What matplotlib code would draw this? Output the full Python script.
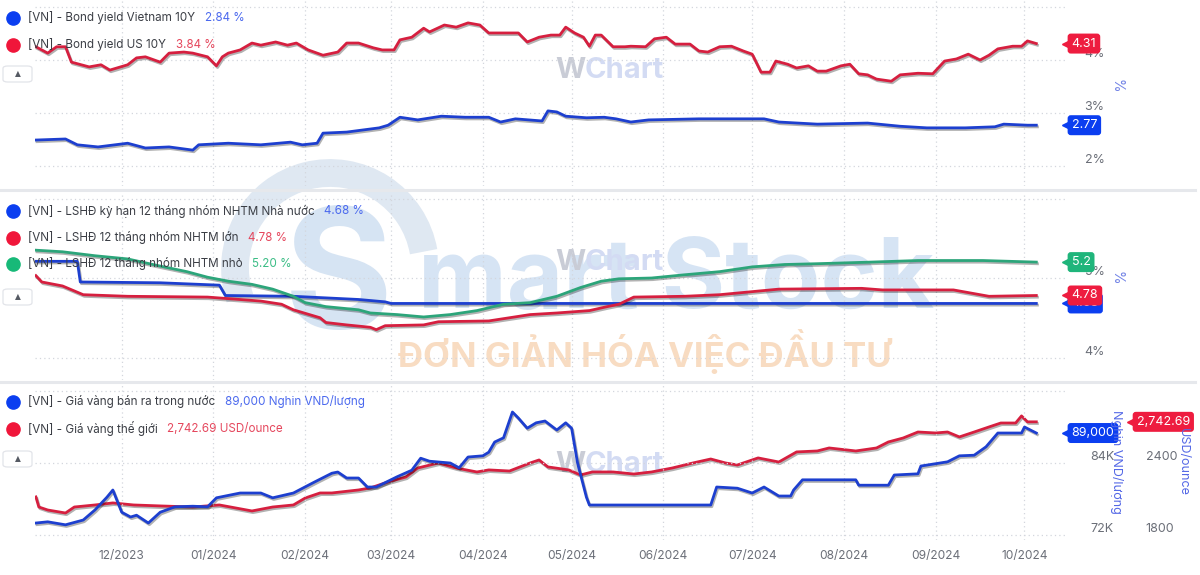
import matplotlib
matplotlib.use('Agg')
import matplotlib.pyplot as plt
import matplotlib.dates as mdates
import matplotlib.patheffects as pe
import matplotlib.transforms as mtransforms
from matplotlib.lines import Line2D
from matplotlib.patches import FancyBboxPatch, Arc
import pandas as pd

plt.rcParams['font.family'] = ['Inter', 'DejaVu Sans']

# ---- panel 1: bond yields (%)
us10y_dates = ['2023-11-02', '2023-11-06', '2023-11-09', '2023-11-12', '2023-11-14', '2023-11-20',
               '2023-11-24', '2023-11-27', '2023-12-03', '2023-12-06', '2023-12-09', '2023-12-12',
               '2023-12-14', '2023-12-17', '2023-12-22', '2023-12-25', '2023-12-30', '2024-01-02',
               '2024-01-04', '2024-01-06', '2024-01-10', '2024-01-14', '2024-01-17', '2024-01-22',
               '2024-01-26', '2024-01-29', '2024-02-02', '2024-02-07', '2024-02-12', '2024-02-15',
               '2024-02-19', '2024-02-24', '2024-02-27', '2024-03-02', '2024-03-04', '2024-03-08',
               '2024-03-12', '2024-03-14', '2024-03-19', '2024-03-23', '2024-03-27', '2024-03-31',
               '2024-04-03', '2024-04-08', '2024-04-13', '2024-04-16', '2024-04-20', '2024-04-24',
               '2024-04-27', '2024-04-29', '2024-05-02', '2024-05-05', '2024-05-07', '2024-05-09',
               '2024-05-11', '2024-05-15', '2024-05-19', '2024-05-21', '2024-05-26', '2024-05-29',
               '2024-06-02', '2024-06-05', '2024-06-10', '2024-06-13', '2024-06-16', '2024-06-20',
               '2024-06-24', '2024-06-28', '2024-07-01', '2024-07-04', '2024-07-07', '2024-07-09',
               '2024-07-13', '2024-07-16', '2024-07-20', '2024-07-23', '2024-07-26', '2024-07-31',
               '2024-08-03', '2024-08-06', '2024-08-09', '2024-08-12', '2024-08-17', '2024-08-20',
               '2024-08-26', '2024-08-31', '2024-09-04', '2024-09-08', '2024-09-12', '2024-09-16',
               '2024-09-19', '2024-09-22', '2024-09-27', '2024-09-30', '2024-10-02', '2024-10-05']
us10y = [4.25, 4.13, 4.25, 4.25, 3.96, 3.87, 3.91, 3.81, 3.91, 4.04, 4.06, 4.00,
         3.96, 4.13, 4.15, 4.13, 4.06, 3.89, 4.06, 4.13, 4.19, 4.32, 4.28, 4.34,
         4.28, 4.32, 4.19, 4.09, 4.15, 4.32, 4.32, 4.23, 4.19, 4.19, 4.38, 4.43,
         4.60, 4.53, 4.66, 4.62, 4.70, 4.66, 4.51, 4.51, 4.51, 4.34, 4.43, 4.47,
         4.47, 4.62, 4.51, 4.43, 4.26, 4.47, 4.47, 4.25, 4.25, 4.26, 4.25, 4.40,
         4.43, 4.30, 4.30, 4.17, 4.15, 4.25, 4.26, 4.17, 4.11, 3.77, 3.77, 3.98,
         3.92, 3.85, 3.89, 3.79, 3.79, 3.89, 3.92, 3.74, 3.72, 3.64, 3.60, 3.72,
         3.75, 3.74, 3.98, 4.02, 4.11, 4.00, 4.09, 4.21, 4.26, 4.26, 4.36, 4.31]

vn10y_dates = ['2023-11-02', '2023-11-12', '2023-11-16', '2023-11-23', '2023-12-03', '2023-12-09',
               '2023-12-17', '2023-12-25', '2023-12-27', '2024-01-06', '2024-01-17', '2024-01-27',
               '2024-01-31', '2024-02-05', '2024-02-07', '2024-02-15', '2024-02-26', '2024-02-29',
               '2024-03-04', '2024-03-10', '2024-03-18', '2024-03-26', '2024-04-03', '2024-04-07',
               '2024-04-12', '2024-04-21', '2024-04-23', '2024-04-26', '2024-04-29', '2024-05-06',
               '2024-05-12', '2024-05-16', '2024-05-21', '2024-05-27', '2024-06-13', '2024-06-24',
               '2024-07-05', '2024-07-10', '2024-07-23', '2024-08-09', '2024-08-20', '2024-08-29',
               '2024-09-11', '2024-09-21', '2024-09-24', '2024-10-02', '2024-10-05']
vn10y = [2.49, 2.51, 2.40, 2.36, 2.43, 2.34, 2.36, 2.30, 2.40, 2.43, 2.40, 2.45,
         2.40, 2.43, 2.62, 2.64, 2.72, 2.77, 2.92, 2.87, 2.94, 2.92, 2.92, 2.83,
         2.89, 2.85, 3.04, 3.02, 2.94, 2.91, 2.92, 2.89, 2.83, 2.87, 2.89, 2.89,
         2.89, 2.83, 2.79, 2.81, 2.75, 2.72, 2.72, 2.74, 2.79, 2.77, 2.77]

# ---- panel 2: 12-month deposit rates (%)
small_dates = ['2023-11-02', '2023-11-11', '2023-11-22', '2023-12-03', '2023-12-14', '2023-12-23',
               '2023-12-30', '2024-01-06', '2024-01-14', '2024-01-21', '2024-01-28', '2024-02-01',
               '2024-02-08', '2024-02-19', '2024-02-23', '2024-03-03', '2024-03-12', '2024-03-21',
               '2024-03-30', '2024-04-08', '2024-04-17', '2024-04-26', '2024-05-04', '2024-05-11',
               '2024-05-17', '2024-05-28', '2024-06-08', '2024-06-20', '2024-07-01', '2024-07-12',
               '2024-07-23', '2024-08-10', '2024-08-26', '2024-09-17', '2024-10-05']
small_rate = [5.35, 5.33, 5.28, 5.24, 5.15, 5.08, 5.01, 4.96, 4.92, 4.86, 4.77, 4.69,
              4.64, 4.60, 4.56, 4.54, 4.51, 4.54, 4.59, 4.67, 4.69, 4.77, 4.88, 4.96,
              4.99, 5.00, 5.04, 5.08, 5.14, 5.17, 5.18, 5.20, 5.22, 5.22, 5.20]

state_dates = ['2023-11-02', '2023-11-16', '2023-11-17', '2023-12-14', '2024-01-03', '2024-01-05',
               '2024-01-28', '2024-02-19', '2024-02-28', '2024-03-01', '2024-10-05']
state_rate = [5.21, 5.21, 4.95, 4.94, 4.91, 4.78, 4.77, 4.73, 4.70, 4.68, 4.68]

big_dates = ['2023-11-02', '2023-11-04', '2023-11-11', '2023-11-18', '2023-12-03', '2023-12-30',
             '2024-01-17', '2024-01-24', '2024-01-28', '2024-02-06', '2024-02-08', '2024-02-15',
             '2024-02-23', '2024-02-25', '2024-02-28', '2024-03-12', '2024-03-17', '2024-04-03',
             '2024-04-10', '2024-04-17', '2024-04-26', '2024-05-07', '2024-05-13', '2024-05-17',
             '2024-05-22', '2024-06-08', '2024-06-20', '2024-07-10', '2024-08-07', '2024-08-14',
             '2024-09-07', '2024-09-19', '2024-10-05']
big_rate = [5.03, 4.95, 4.90, 4.79, 4.77, 4.76, 4.71, 4.67, 4.60, 4.50, 4.44, 4.41,
            4.38, 4.35, 4.40, 4.41, 4.45, 4.46, 4.50, 4.54, 4.56, 4.59, 4.64, 4.67,
            4.76, 4.77, 4.79, 4.86, 4.87, 4.85, 4.85, 4.77, 4.78]

# ---- panel 3: gold prices
vn_gold_dates = ['2023-11-02', '2023-11-06', '2023-11-12', '2023-11-18', '2023-11-22', '2023-11-26',
                 '2023-11-28', '2023-12-01', '2023-12-04', '2023-12-06', '2023-12-10', '2023-12-14',
                 '2023-12-19', '2023-12-25', '2023-12-30', '2024-01-02', '2024-01-10', '2024-01-17',
                 '2024-01-21', '2024-01-28', '2024-02-04', '2024-02-10', '2024-02-12', '2024-02-15',
                 '2024-02-19', '2024-02-22', '2024-02-25', '2024-03-03', '2024-03-08', '2024-03-11',
                 '2024-03-14', '2024-03-21', '2024-03-24', '2024-03-27', '2024-04-01', '2024-04-03',
                 '2024-04-05', '2024-04-08', '2024-04-11', '2024-04-13', '2024-04-16', '2024-04-19',
                 '2024-04-22', '2024-04-26', '2024-04-29', '2024-05-01', '2024-05-03', '2024-05-06',
                 '2024-05-07', '2024-06-17', '2024-06-19', '2024-06-26', '2024-07-01', '2024-07-05',
                 '2024-07-10', '2024-07-14', '2024-07-15', '2024-07-18', '2024-08-05', '2024-08-06',
                 '2024-08-16', '2024-08-18', '2024-08-26', '2024-08-27', '2024-09-05', '2024-09-09',
                 '2024-09-14', '2024-09-18', '2024-09-22', '2024-09-30', '2024-10-01', '2024-10-05']
vn_gold = [74.0, 74.2, 73.7, 74.5, 76.2, 78.3, 79.5, 75.8, 75.0, 75.3, 74.0, 75.8,
           76.7, 76.8, 76.7, 78.2, 79.0, 79.0, 78.2, 79.0, 80.8, 82.3, 82.5, 81.5,
           81.5, 80.0, 80.0, 81.7, 82.8, 84.8, 84.3, 84.0, 83.2, 85.0, 85.2, 85.8,
           87.5, 88.2, 92.5, 91.5, 89.8, 90.7, 91.0, 89.5, 90.7, 89.8, 84.0, 78.3,
           77.0, 77.0, 80.0, 79.8, 79.0, 80.0, 78.5, 78.5, 79.5, 81.2, 81.2, 80.3,
           80.3, 82.0, 82.2, 83.5, 84.2, 85.2, 85.3, 86.7, 89.0, 89.0, 90.0, 89.0]

world_gold_dates = ['2023-11-02', '2023-11-03', '2023-11-06', '2023-11-12', '2023-11-15', '2023-11-22',
                    '2023-11-28', '2023-12-05', '2023-12-14', '2023-12-25', '2024-01-03', '2024-01-14',
                    '2024-01-21', '2024-01-28', '2024-02-01', '2024-02-06', '2024-02-10', '2024-02-19',
                    '2024-02-23', '2024-02-29', '2024-03-06', '2024-03-10', '2024-03-17', '2024-03-23',
                    '2024-03-30', '2024-04-03', '2024-04-10', '2024-04-17', '2024-04-20', '2024-04-23',
                    '2024-04-30', '2024-05-04', '2024-05-08', '2024-05-15', '2024-05-22', '2024-05-28',
                    '2024-06-04', '2024-06-11', '2024-06-17', '2024-06-22', '2024-06-26', '2024-07-03',
                    '2024-07-10', '2024-07-16', '2024-07-23', '2024-07-27', '2024-08-05', '2024-08-12',
                    '2024-08-16', '2024-08-21', '2024-08-26', '2024-09-01', '2024-09-05', '2024-09-09',
                    '2024-09-14', '2024-09-19', '2024-09-23', '2024-09-28', '2024-09-30', '2024-10-02',
                    '2024-10-05']
world_gold = [2117, 2033, 2008, 1983, 2033, 2050, 2067, 2050, 2042, 2033, 2050, 2000,
              2033, 2050, 2108, 2150, 2150, 2175, 2192, 2242, 2283, 2358, 2400, 2358,
              2325, 2342, 2333, 2400, 2425, 2367, 2342, 2300, 2325, 2325, 2308, 2325,
              2358, 2400, 2433, 2400, 2383, 2442, 2408, 2492, 2500, 2525, 2500, 2525,
              2575, 2608, 2658, 2650, 2658, 2617, 2658, 2700, 2733, 2733, 2792, 2742.69,
              2742.69]

BLUE = '#1d3fcf'
RED = '#d61f3f'
GREEN = '#2ca57a'

W, H = 1200, 575
fig = plt.figure(figsize=(12, 5.75), dpi=100)


def fx(px):
    return px / W


def fy(py):
    return 1 - py / H


x0 = pd.Timestamp('2023-11-01') + pd.Timedelta(days=0.7)
x1 = x0 + pd.Timedelta(days=349)


def make_axes(top, bottom):
    ax = fig.add_axes([fx(35), fy(bottom), fx(1068 - 35), (bottom - top) / H])
    ax.set_facecolor('none')
    for s in ax.spines.values():
        s.set_visible(False)
    ax.set_xlim(x0, x1)
    ax.xaxis.set_major_locator(mdates.MonthLocator())
    ax.xaxis.set_major_formatter(mdates.DateFormatter('%m/%Y'))
    ax.grid(True, color='#d3d6dd', linestyle=(0, (1, 2.5)), linewidth=0.9)
    ax.yaxis.tick_right()
    ax.tick_params(length=0, labelcolor='#6b6f78', labelsize=9)
    ax.tick_params(axis='y', pad=12)
    ax.tick_params(axis='x', pad=7, labelsize=8.6)
    return ax


shadow = [pe.SimpleLineShadow(offset=(0.8, -1.2), shadow_color='k', alpha=0.3), pe.Normal()]


def line(ax, dates, vals, color):
    ax.plot(pd.to_datetime(dates), vals, color=color, lw=2.0, path_effects=shadow,
            solid_joinstyle='round', zorder=3)


def tag(ax, xfrac, y, text, color, z=5):
    tr = mtransforms.blended_transform_factory(ax.transAxes, ax.transData)
    ax.plot([xfrac], [y], marker='<', color=color, markersize=8, transform=tr,
            clip_on=False, zorder=z)
    ax.text(xfrac + 0.0035, y, text, transform=tr, color='white', fontsize=9, va='center',
            ha='left', clip_on=False, zorder=z,
            bbox=dict(boxstyle='round,pad=0.32,rounding_size=0.25', fc=color, ec='none'))


def legend(ax, rows, y0):
    for i, (label, value, dot, vcol) in enumerate(rows):
        y = y0 + i * 26.5
        fig.add_artist(Line2D([fx(13)], [fy(y)], marker='o', markersize=9.5, color=dot,
                              linestyle='none', zorder=6))
        t = fig.text(fx(28), fy(y), label, color='#3b3e45', fontsize=8.4, va='center', zorder=6)
        ax.annotate(value, xy=(1, 0.5), xycoords=t, xytext=(7, 0), textcoords='offset points',
                    va='center', ha='left', color=vcol, fontsize=8.4, zorder=6)


def button(y):
    fig.add_artist(FancyBboxPatch((fx(3), fy(y + 8)), fx(29), 16 / H,
                                  boxstyle='round,pad=0,rounding_size=0.004',
                                  fc='white', ec='#e2e4e9', lw=0.9, zorder=6))
    fig.text(fx(17.5), fy(y), '▲', fontsize=5.5, color='#555a63', ha='center', va='center',
             zorder=7, family='DejaVu Sans')


# ---- watermarks (behind the axes)
for wy in [70, 262, 465]:
    fig.text(fx(555), fy(wy), 'W', fontsize=21, fontweight='bold', color='#c9ccd6',
             va='center', ha='left', zorder=-2)
    fig.text(fx(585), fy(wy), 'Chart', fontsize=21, fontweight='bold', color='#d3dbf3',
             va='center', ha='left', zorder=-2)
fig.add_artist(Arc((fx(330), fy(268)), 190 / W, 190 / H, theta1=20, theta2=215,
                   transform=fig.transFigure, color='#dfe8f2', lw=20, zorder=-3))
fig.text(fx(338), fy(285), 'S', fontsize=120, fontweight='bold', color='#d6e4f3',
         ha='center', va='center', zorder=-3)
fig.text(fx(418), fy(283), 'mart Stock', fontsize=70, fontweight='bold', color='#d6e4f4',
         ha='left', va='center', zorder=-3)
fig.text(fx(645), fy(352), 'ĐƠN GIẢN HÓA VIỆC ĐẦU TƯ', fontsize=25, fontweight='bold',
         color='#f8dcc2', ha='center', va='center', zorder=-3)

# ---- panel 1
ax1 = make_axes(0, 186)
ax1.set_ylim(1.623, 5.132)
ax1.set_yticks([2, 3, 4, 5])
ax1.set_yticklabels(['2%', '3%', '4%', ''])
plt.setp(ax1.get_yticklabels(), va='bottom')
ax1.tick_params(labelbottom=False)
line(ax1, us10y_dates, us10y, RED)
line(ax1, vn10y_dates, vn10y, BLUE)
tag(ax1, 1.0, us10y[-1], f'{us10y[-1]:.2f}', '#ee1c3f')
tag(ax1, 1.0, vn10y[-1], f'{vn10y[-1]:.2f}', '#0b3ef0')
legend(ax1, [('[VN] - Bond yield Vietnam 10Y', '2.84 %', '#0b3ef0', '#4b69ee'),
             ('[VN] - Bond yield US 10Y', '3.84 %', '#f0163a', '#e5475d')], 18)
button(74)
fig.text(fx(1117), fy(86), '%', rotation=270, fontsize=10, color='#7384e6',
         ha='center', va='center')

# ---- panel 2
ax2 = make_axes(192, 380)
ax2.set_ylim(3.717, 6.082)
ax2.set_yticks([4, 5, 6])
ax2.set_yticklabels(['4%', '5%', ''])
plt.setp(ax2.get_yticklabels(), va='bottom')
ax2.tick_params(labelbottom=False)
line(ax2, state_dates, state_rate, BLUE)
line(ax2, big_dates, big_rate, RED)
line(ax2, small_dates, small_rate, GREEN)
tag(ax2, 1.0, state_rate[-1], f'{state_rate[-1]:.2f}', '#0b3ef0', z=5)
tag(ax2, 1.0, big_rate[-1], f'{big_rate[-1]:.2f}', '#ee1c3f', z=6)
tag(ax2, 1.0, small_rate[-1], f'{small_rate[-1]:.1f}', '#1fb57b', z=7)
legend(ax2, [('[VN] - LSHĐ kỳ hạn 12 tháng nhóm NHTM Nhà nước', '4.68 %', '#0b3ef0', '#4b69ee'),
             ('[VN] - LSHĐ 12 tháng nhóm NHTM lớn', '4.78 %', '#f0163a', '#e5475d'),
             ('[VN] - LSHĐ 12 tháng nhóm NHTM nhỏ', '5.20 %', '#17b978', '#3cbd86')], 211)
button(297)
fig.text(fx(1117), fy(278), '%', rotation=270, fontsize=10, color='#7384e6',
         ha='center', va='center')

# ---- panel 3
ax3 = make_axes(384, 540)
ax3.set_ylim(71.17, 97.17)
ax3b = ax3.twinx()
ax3.yaxis.tick_right()
ax3.set_yticks([72, 84, 96])
ax3.set_yticklabels(['72K', '84K', ''])
plt.setp(ax3.get_yticklabels(), va='bottom')
ax3.tick_params(axis='y', pad=16, length=0, labelcolor='#6b6f78', labelsize=9)
ax3b.set_facecolor('none')
for s in ax3b.spines.values():
    s.set_visible(False)
ax3b.set_ylim(1758, 3058)
ax3b.set_yticks([1800, 2400, 3000])
ax3b.set_yticklabels(['1800', '2400', ''])
plt.setp(ax3b.get_yticklabels(), va='bottom')
ax3b.tick_params(length=0, labelcolor='#6b6f78', labelsize=9, pad=56)
line(ax3b, world_gold_dates, world_gold, RED)
line(ax3, vn_gold_dates, vn_gold, BLUE)
ax3.set_zorder(ax3b.get_zorder() + 1)
tag(ax3, 1.0, vn_gold[-1], f'{vn_gold[-1] * 1000:,.0f}', '#0b3ef0')
tag(ax3b, 1.063, world_gold[-1], f'{world_gold[-1]:,.2f}', '#ee1c3f')
legend(ax3, [('[VN] - Giá vàng bán ra trong nước', '89,000 Nghin VND/lượng', '#0b3ef0', '#4b69ee'),
             ('[VN] - Giá vàng thế giới', '2,742.69 USD/ounce', '#f0163a', '#e5475d')], 402)
button(459)
fig.text(fx(1117), fy(462), 'Nghin VND/lượng', rotation=270, fontsize=9, color='#5468e6',
         ha='center', va='center')
fig.text(fx(1183), fy(462), 'USD/ounce', rotation=270, fontsize=9, color='#5468e6',
         ha='center', va='center')

# ---- panel separators
for sy in [189.5, 382]:
    fig.add_artist(Line2D([0, fx(1195)], [fy(sy), fy(sy)], color='#e6e8ec', lw=2.2))

fig.savefig('out.png', dpi=100)
